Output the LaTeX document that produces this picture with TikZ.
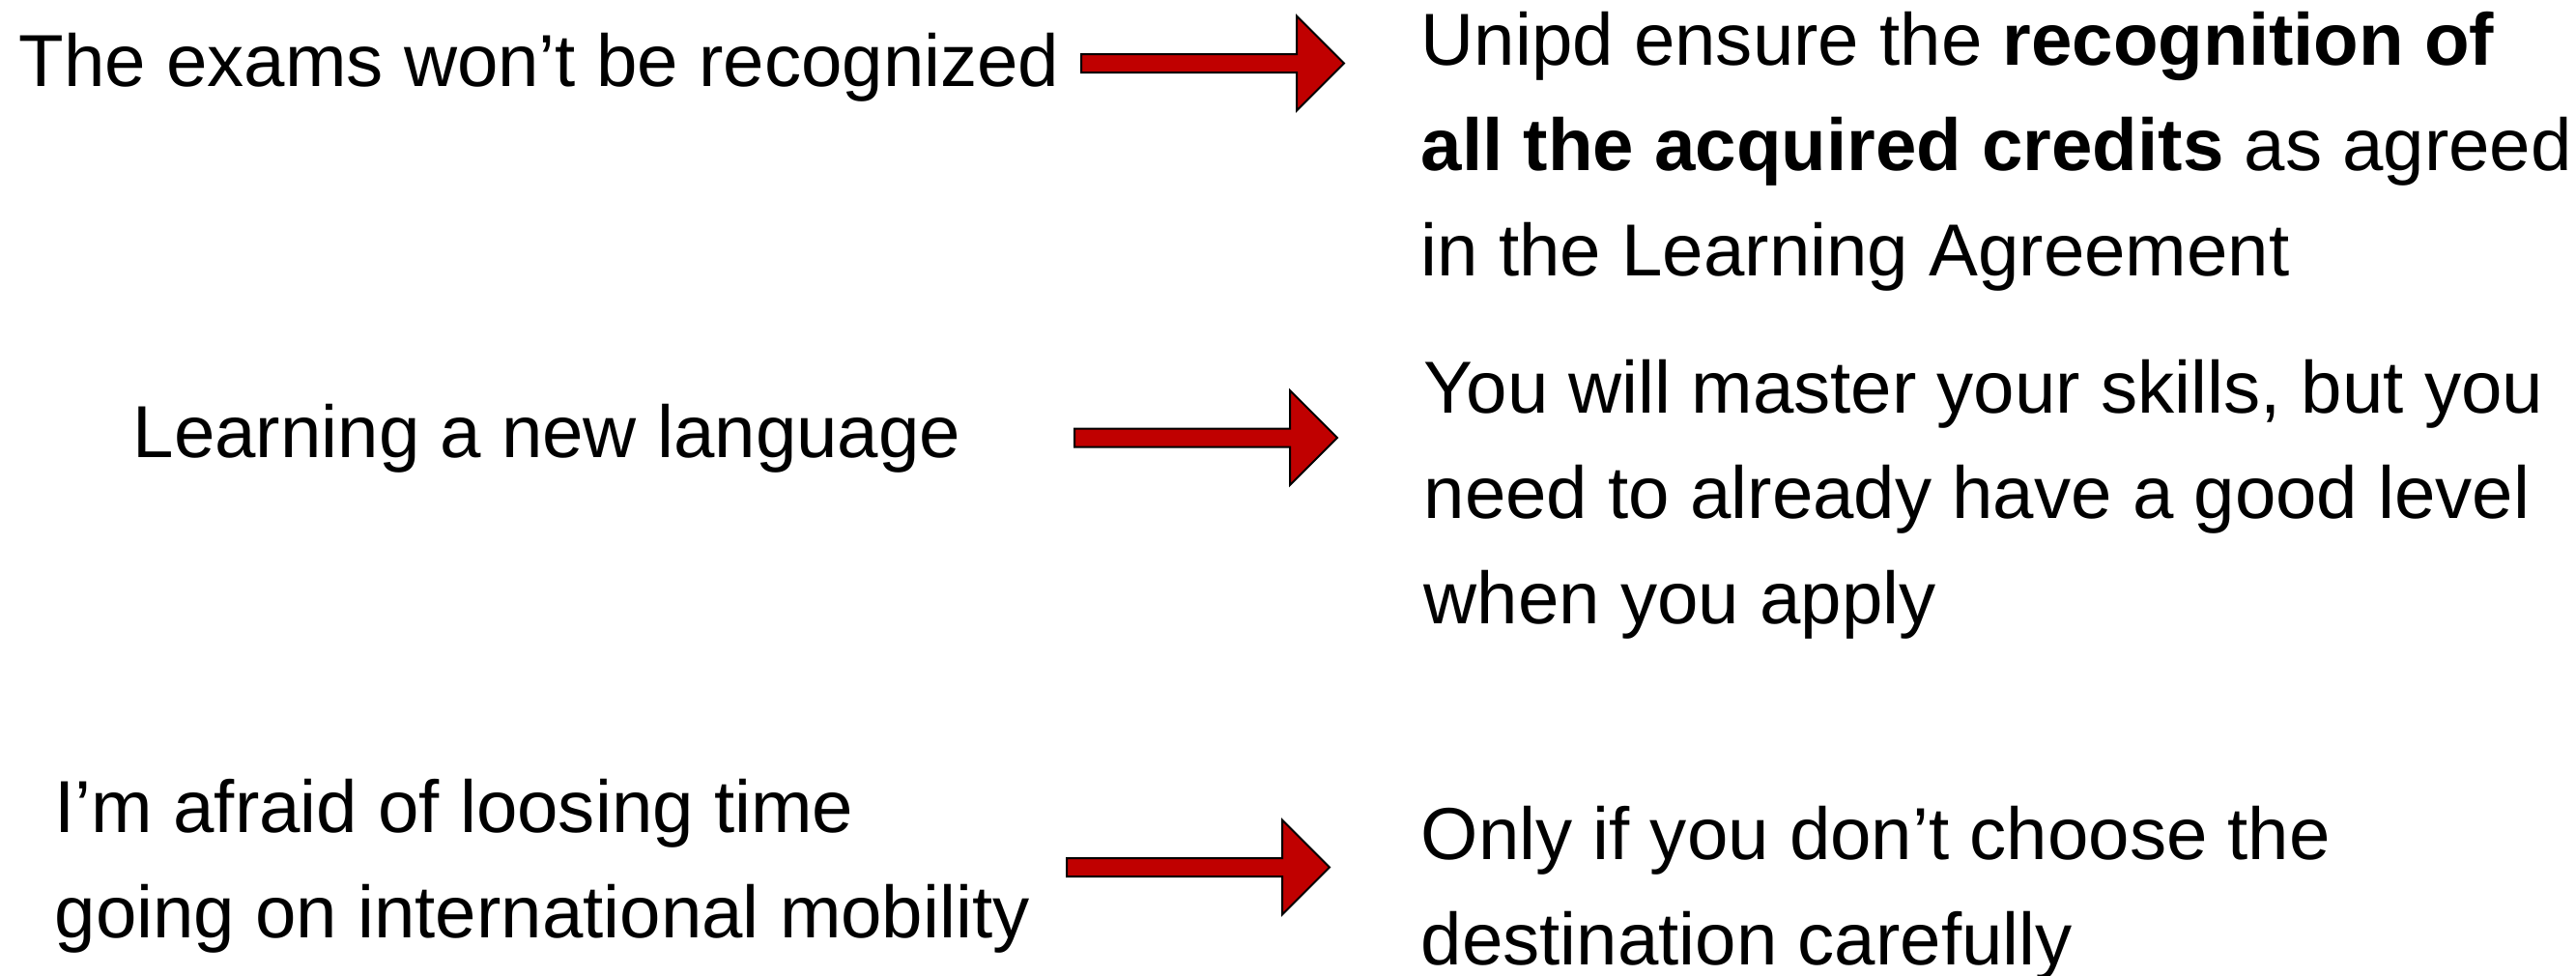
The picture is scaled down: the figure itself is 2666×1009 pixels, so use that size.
\documentclass[tikz,border=0pt]{standalone}
\usepackage{fontspec}
\setmainfont{Liberation Sans}
\usetikzlibrary{shapes.arrows,positioning}
\definecolor{arrowred}{RGB}{192,0,0}
\begin{document}
\begin{tikzpicture}[x=0.1mm,y=-0.1mm,
  doubt node/.style={anchor=base west, inner sep=0pt, align=left, font=\fontsize{21.7}{30.9}\selectfont},
  answer node/.style={doubt node},
  red arrow/.style={single arrow, draw=black, line width=0.2mm, fill=arrowred, inner xsep=0pt, inner ysep=0.85mm, minimum height=27.2mm, single arrow head extend=3.95mm, anchor=tail}]
  \useasboundingbox (0,0) rectangle (2666,1009);

  % base anchor sits on the last line
  \node[doubt node] (d1) at (19,89) {The exams won’t be recognized};
  \node[doubt node] (d2) at (137,473) {Learning a new language};
  \node[doubt node] (d3) at (56,970) {I’m afraid of loosing time\\going on international mobility};

  \node[answer node] (a1) at (1470,285) {Unipd ensure the \textbf{recognition of}\\\textbf{all the acquired credits} as agreed\\in the Learning Agreement};
  \node[answer node] (a2) at (1473,645) {You will master your skills, but you\\need to already have a good level\\when you apply};
  \node[answer node] (a3) at (1470,998) {Only if you don’t choose the\\destination carefully};

  \node[red arrow] (r1) at (1118,65.5) {};
  \node[red arrow] (r2) at (1111,453) {};
  \node[red arrow] (r3) at (1103,897.5) {};
\end{tikzpicture}
\end{document}
